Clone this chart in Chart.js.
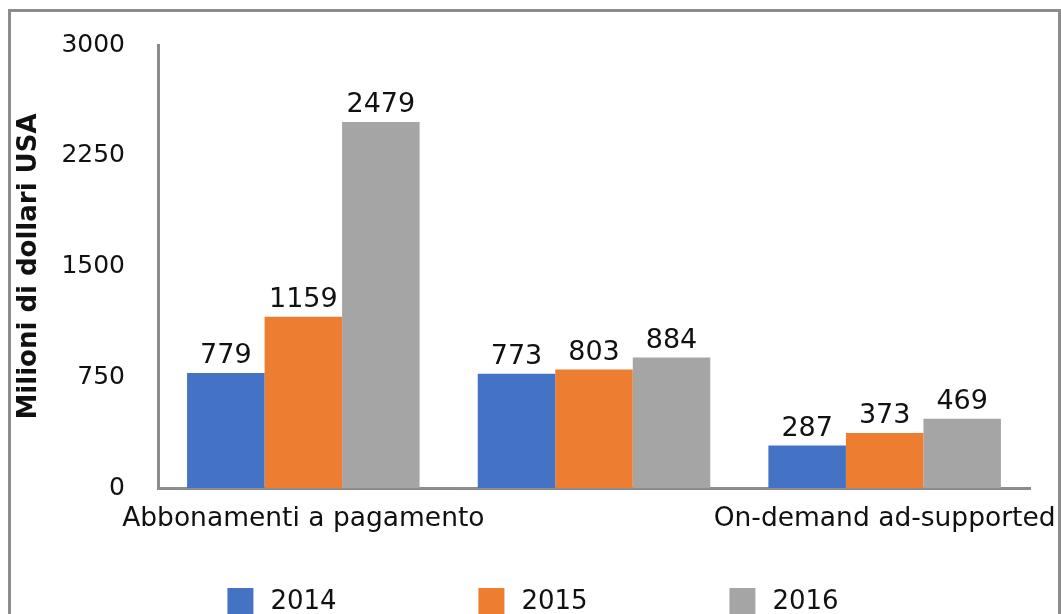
<!DOCTYPE html>
<html>
<head>
<meta charset="utf-8">
<script src="https://cdn.jsdelivr.net/npm/chart.js"></script>
<style>
  html, body { margin: 0; padding: 0; background: #fff; overflow: hidden; }
  #wrap { position: relative; width: 1061px; height: 614px; }
  #frame { position: absolute; left: 8px; top: 9px; width: 1047px; height: 700px; border: 3px solid #8c8c8c; pointer-events: none; }
</style>
</head>
<body>
<div id="wrap">
  <canvas id="chart" width="1061" height="614"></canvas>
  <div id="frame"></div>
</div>
<script>
const categories = ['Abbonamenti a pagamento', 'Distribuzioni SoundExchange', 'On-demand ad-supported'];
const years = ['2014', '2015', '2016'];
const values2014 = [779, 773, 287];
const values2015 = [1159, 803, 373];
const values2016 = [2479, 884, 469];
const colors = ['#4472C4', '#ED7D31', '#A5A5A5'];
const yTicks = [0, 750, 1500, 2250, 3000];

const FONT = '"DejaVu Sans", Verdana, sans-serif';

// numbers above each bar
const valueLabels = {
  id: 'valueLabels',
  afterDatasetsDraw(chart) {
    const ctx = chart.ctx;
    ctx.save();
    ctx.font = '27px ' + FONT;
    ctx.fillStyle = '#111';
    ctx.textAlign = 'center';
    ctx.textBaseline = 'bottom';
    chart.data.datasets.forEach((ds, di) => {
      chart.getDatasetMeta(di).data.forEach((bar, i) => {
        ctx.fillText(String(ds.data[i]), bar.x, bar.y - 3);
      });
    });
    ctx.restore();
  }
};

// legend row at the bottom, wide spacing like the original
const bottomLegend = {
  id: 'bottomLegend',
  afterDraw(chart) {
    const ctx = chart.ctx;
    const step = 251, box = 26, gap = 17, cy = 601;
    ctx.save();
    ctx.font = '26px ' + FONT;
    ctx.textBaseline = 'middle';
    ctx.textAlign = 'left';
    const n = chart.data.datasets.length;
    const center = 533;
    chart.data.datasets.forEach((ds, i) => {
      const tw = ctx.measureText(ds.label).width;
      const itemW = box + gap + tw;
      const x = center + (i - (n - 1) / 2) * step - itemW / 2;
      ctx.fillStyle = ds.backgroundColor;
      ctx.fillRect(x, cy - box / 2, box, box);
      ctx.fillStyle = '#111';
      ctx.fillText(ds.label, x + box + gap, cy + 1);
    });
    ctx.restore();
  }
};

new Chart(document.getElementById('chart'), {
  type: 'bar',
  data: {
    labels: categories,
    datasets: [
      { label: years[0], data: values2014, backgroundColor: colors[0] },
      { label: years[1], data: values2015, backgroundColor: colors[1] },
      { label: years[2], data: values2016, backgroundColor: colors[2] },
    ],
  },
  options: {
    responsive: false,
    animation: false,
    events: [],
    layout: { padding: { left: 12, top: 45, right: 31, bottom: 76 } },
    datasets: { bar: { categoryPercentage: 0.8, barPercentage: 1.0, borderWidth: 0 } },
    plugins: {
      legend: { display: false },
      tooltip: { enabled: false },
    },
    scales: {
      x: {
        grid: { display: false, drawTicks: false },
        border: { display: true, color: '#8c8c8c', width: 3 },
        ticks: {
          color: '#111',
          font: { family: FONT, size: 26.5 },
          padding: 15,
          maxRotation: 0,
          minRotation: 0,
          autoSkip: true,
        },
        afterFit(scale) {
          scale.height = 50;
          scale.paddingLeft = 0;
          scale.paddingRight = 0;
        },
      },
      y: {
        min: 0,
        max: 3000,
        afterBuildTicks(scale) { scale.ticks = yTicks.map((v) => ({ value: v })); },
        grid: { display: false, drawTicks: false },
        border: { display: true, color: '#8c8c8c', width: 3 },
        ticks: {
          color: '#111',
          font: { family: FONT, size: 25 },
          padding: 33,
          callback: (v) => String(v),
        },
        title: {
          display: true,
          text: 'Milioni di dollari USA',
          color: '#111',
          font: { family: FONT, size: 26, weight: 'bold' },
          padding: { top: 2, bottom: 0 },
        },
        afterFit(scale) {
          scale.width = 146;
          scale.paddingTop = 0;
          scale.paddingBottom = 0;
        },
      },
    },
  },
  plugins: [valueLabels, bottomLegend],
});
</script>
</body>
</html>
